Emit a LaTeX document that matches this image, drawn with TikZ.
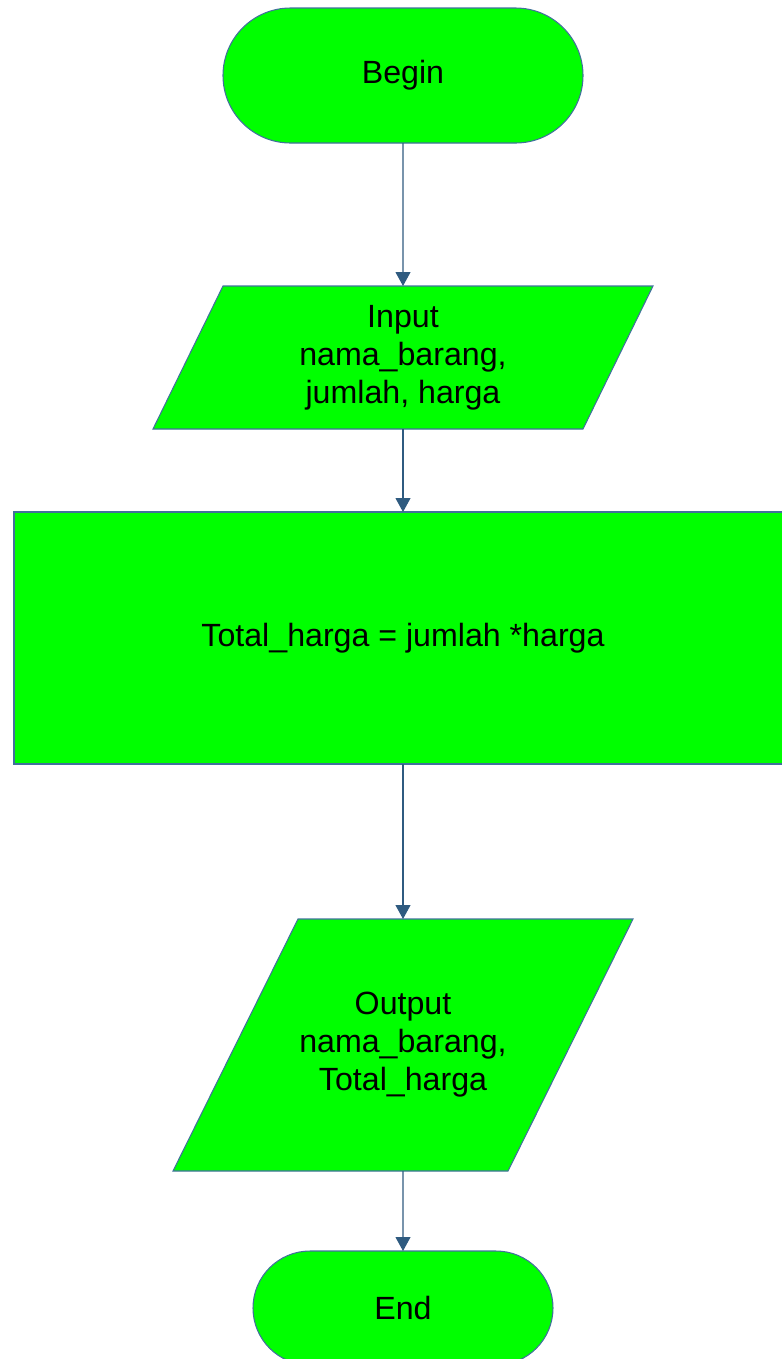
\documentclass[tikz,border=0pt]{standalone}
\usepackage{fontspec}
\setmainfont{Liberation Sans}
\usetikzlibrary{shapes.misc,arrows.meta}

\definecolor{boxgreen}{HTML}{00FF00}
\definecolor{boxline}{HTML}{41719C}
\definecolor{arrowline}{HTML}{2F5B80}

\begin{document}
\begin{tikzpicture}[
  box/.style={fill=boxgreen, draw=boxline, line width=0.6pt, inner sep=0pt, outer sep=0pt,
    align=center, font=\fontsize{18.3}{21.6}\selectfont},
  terminal/.style={box, rounded rectangle},
  iotext/.style={rectangle, inner sep=0pt, outer sep=0pt, align=center,
    font=\fontsize{18.3}{21.6}\selectfont},
  flow/.style={draw=arrowline, line width=0.6pt, -{Triangle[length=0.28cm,width=0.3cm]}}
]
\useasboundingbox (0,0) rectangle (15.64,-27.18);

% parallelograms
\filldraw[fill=boxgreen, draw=boxline, line width=0.6pt]
  (4.46,-5.72) -- (13.06,-5.72) -- (11.66,-8.58) -- (3.06,-8.58) -- cycle;
\filldraw[fill=boxgreen, draw=boxline, line width=0.6pt]
  (5.96,-18.38) -- (12.66,-18.38) -- (10.16,-23.42) -- (3.46,-23.42) -- cycle;

\node[terminal, minimum width=7.2cm, minimum height=2.7cm] (begin) at (8.06,-1.51) {Begin};
\node[iotext, minimum width=1cm, minimum height=2.86cm] (input) at (8.06,-7.15)
  {Input\\nama\_barang,\\jumlah, harga};
\node[box, rectangle, minimum width=15.56cm, minimum height=5.04cm] (total) at (8.06,-12.76)
  {Total\_harga = jumlah *harga};
\node[iotext, minimum width=1cm, minimum height=5.04cm] (output) at (8.06,-20.9)
  {Output\\nama\_barang,\\Total\_harga};
\node[terminal, minimum width=6cm, minimum height=2.28cm] (end) at (8.06,-26.16) {End};

\draw[flow] (begin) -- (input);
\draw[flow] (input) -- (total);
\draw[flow] (total) -- (output);
\draw[flow] (output) -- (end);

\end{tikzpicture}
\end{document}
